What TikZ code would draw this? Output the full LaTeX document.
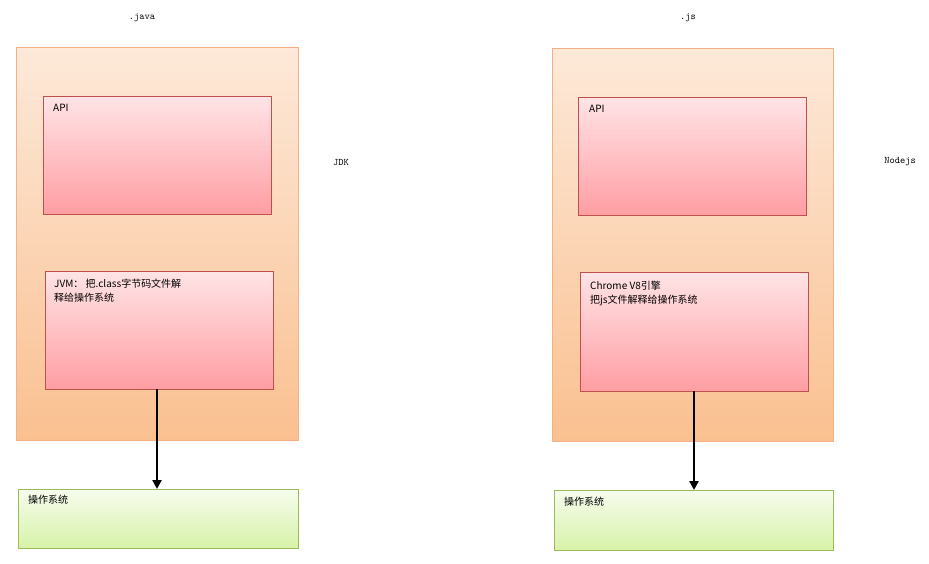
\documentclass[tikz,border=0pt]{standalone}
\usepackage{fontspec}
\newfontfamily\cjk{Noto Sans CJK SC}
\usetikzlibrary{arrows.meta}
\definecolor{ob}{HTML}{F4B183}
\definecolor{otop}{HTML}{FDE9D9}
\definecolor{obot}{HTML}{FAC090}
\definecolor{pb}{HTML}{C0504D}
\definecolor{ptop}{HTML}{FFE4E6}
\definecolor{pbot}{HTML}{FF9EA3}
\definecolor{gb}{HTML}{9BBB59}
\definecolor{gtop}{HTML}{F7FCEE}
\definecolor{gbot}{HTML}{D7F2A8}
\begin{document}
\begin{tikzpicture}[x=1pt,y=-1pt,
 outer/.style={draw=ob,top color=otop,bottom color=obot},
 inner/.style={draw=pb,top color=ptop,bottom color=pbot},
 os/.style={draw=gb,top color=gtop,bottom color=gbot},
 lbl/.style={anchor=north west,font=\cjk\fontsize{10}{14}\selectfont,align=left,inner sep=0pt},
 mono/.style={font=\ttfamily\fontsize{10}{12}\selectfont},
 arr/.style={line width=2.5pt,-{Triangle[length=9pt,width=9pt]}}]
\useasboundingbox (0,0) rectangle (929,563);
\node[mono] (tj) at (142,18) {.java};
\node[mono] (tjs) at (688,18) {.js};
\node[mono] (jdk) at (341,162) {JDK};
\node[mono] (nj) at (900,162) {Nodejs};
% left
\path[outer] (16,47) rectangle (298,440);
\path[inner] (43,96) rectangle (271,214);
\node[lbl] (a1) at (53,104) {API};
\path[inner] (45,271) rectangle (273,389);
\node[lbl] (j1) at (54,279) {JVM： 把.class字节码文件解\\释给操作系统};
\path[os] (18,489) rectangle (298,548);
\node[lbl] (o1) at (28,495) {操作系统};
\coordinate (s1) at (157,389); \coordinate (e1) at (157,489);
\draw[arr] (s1) -- (e1);
% right
\path[outer] (552,48) rectangle (833,441);
\path[inner] (578,97) rectangle (806,215);
\node[lbl] (a2) at (589,105) {API};
\path[inner] (580,272) rectangle (808,391);
\node[lbl] (v2) at (590,281) {Chrome V8引擎\\把js文件解释给操作系统};
\path[os] (554,490) rectangle (833,550);
\node[lbl] (o2) at (564,497) {操作系统};
\coordinate (s2) at (694,391); \coordinate (e2) at (694,490);
\draw[arr] (s2) -- (e2);
\end{tikzpicture}
\end{document}
